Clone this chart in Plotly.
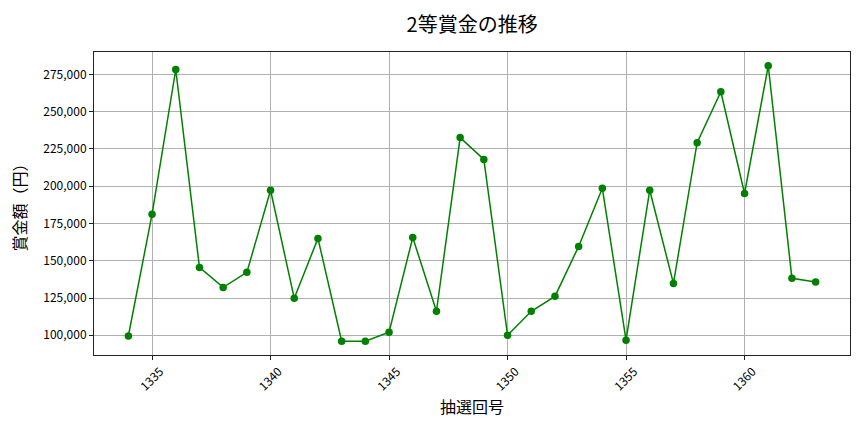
import plotly.graph_objects as go

draws = list(range(1334, 1364))
prizes = [
    99500, 181200, 278300, 145500, 132100, 142200, 197300, 124800, 165000, 96000,
    96000, 102000, 165600, 116100, 232600, 218000, 100000, 116100, 126100, 159600,
    198600, 96700, 197300, 134800, 229200, 263400, 195100, 280800, 138200, 135700,
]
x_ticks = [1335, 1340, 1345, 1350, 1355, 1360]
y_ticks = [100000, 125000, 150000, 175000, 200000, 225000, 250000, 275000]

font_name = "Noto Sans CJK JP"

trace = go.Scatter(
    x=draws,
    y=prizes,
    mode="lines+markers",
    line=dict(color="#008000", width=1.5),
    marker=dict(color="#008000", size=7.5),
    hoverinfo="x+y",
)

axis_common = dict(
    showline=True,
    linecolor="#222222",
    linewidth=1,
    mirror=True,
    showgrid=True,
    gridcolor="#b0b0b0",
    gridwidth=1,
    zeroline=False,
    ticks="outside",
    ticklen=4,
    tickcolor="#222222",
    tickfont=dict(family=font_name, size=12, color="#000000"),
)

layout = go.Layout(
    width=864,
    height=432,
    showlegend=False,
    plot_bgcolor="white",
    paper_bgcolor="white",
    margin=dict(l=94, r=14, t=52, b=77),
    title=dict(
        text="2等賞金の推移",
        x=0.5465,
        xanchor="center",
        y=0.942,
        yanchor="middle",
        font=dict(family=font_name, size=20, color="#000000"),
    ),
    xaxis=dict(
        axis_common,
        range=[1332.55, 1364.45],
        tickmode="array",
        tickvals=x_ticks,
        tickangle=-45,
        ticklabelshift=8,
        title=dict(text="抽選回号", standoff=8,
                   font=dict(family=font_name, size=16, color="#000000")),
    ),
    yaxis=dict(
        axis_common,
        range=[86760, 290040],
        tickmode="array",
        tickvals=y_ticks,
        tickformat=",d",
        title=dict(text="賞金額（円）", standoff=12,
                   font=dict(family=font_name, size=16, color="#000000")),
    ),
)

fig = go.Figure(data=[trace], layout=layout)
fig.write_html(
    "out.html",
    config={"displayModeBar": False},
    post_script="document.body.style.margin='0';",
)
